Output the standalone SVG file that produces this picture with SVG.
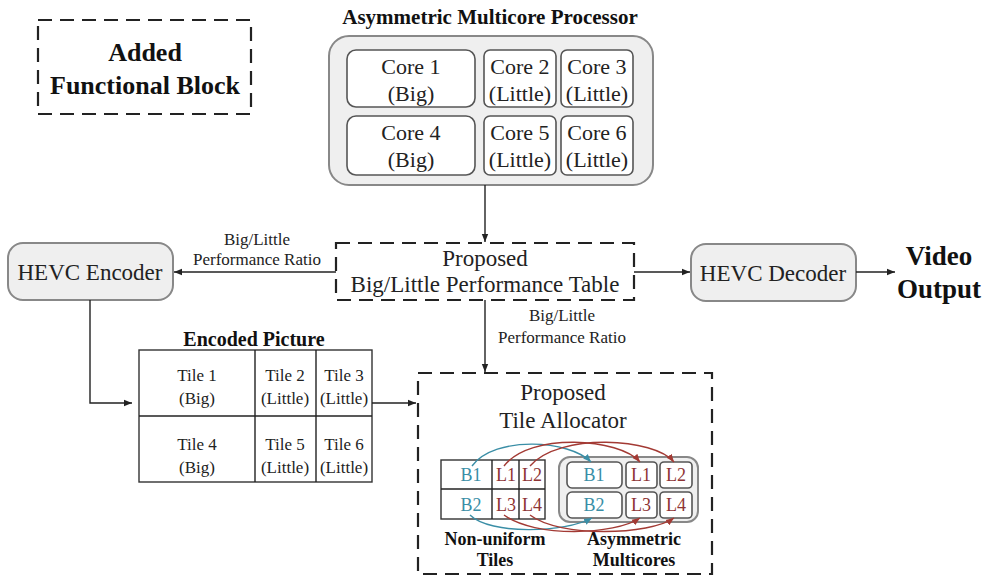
<svg xmlns="http://www.w3.org/2000/svg" width="984" height="576" viewBox="0 0 984 576">
<style>
text{font-family:"Liberation Serif","Times New Roman","DejaVu Serif",serif;fill:#222;text-anchor:middle}
.b{font-weight:bold;fill:#111}
.dash{fill:none;stroke:#222;stroke-width:2.2;stroke-dasharray:14,8}
.gbox{fill:#efefef;stroke:#888;stroke-width:2}
.core{fill:#fff;stroke:#555;stroke-width:1.6}
.ln{fill:none;stroke:#222;stroke-width:1.4}
.grid{fill:#fff;stroke:#333;stroke-width:1.4}
.teal{fill:#3a8ea6}
.red{fill:#8e3434}
.ct{fill:none;stroke:#3a8ea6;stroke-width:1.4}
.cr{fill:none;stroke:#a33a34;stroke-width:1.4}
</style>
<defs>
<marker id="ah" viewBox="0 0 10 10" refX="10" refY="5" markerWidth="8" markerHeight="8" markerUnits="userSpaceOnUse" orient="auto"><path d="M0,1 L10,5 L0,9 z" fill="#222"/></marker>
<marker id="aht" viewBox="0 0 10 10" refX="10" refY="5" markerWidth="8" markerHeight="8" markerUnits="userSpaceOnUse" orient="auto"><path d="M0,1 L10,5 L0,9 z" fill="#3a8ea6"/></marker>
<marker id="ahr" viewBox="0 0 10 10" refX="10" refY="5" markerWidth="8" markerHeight="8" markerUnits="userSpaceOnUse" orient="auto"><path d="M0,1 L10,5 L0,9 z" fill="#a33a34"/></marker>
</defs>

<g id="legend">
<rect class="dash" x="38" y="20" width="213" height="94"/>
<text class="b" x="145" y="61" font-size="26">Added</text>
<text class="b" x="145" y="94" font-size="26">Functional Block</text>
</g>

<g id="processor">
<text class="b" x="490" y="24" font-size="21">Asymmetric Multicore Processor</text>
<rect class="gbox" x="329" y="36" width="324" height="149" rx="20"/>
<rect class="core" x="347" y="50" width="128" height="57" rx="9"/>
<rect class="core" x="484" y="50" width="72" height="57" rx="6"/>
<rect class="core" x="561" y="50" width="72" height="57" rx="6"/>
<rect class="core" x="347" y="116" width="128" height="59" rx="9"/>
<rect class="core" x="484" y="116" width="72" height="59" rx="6"/>
<rect class="core" x="561" y="116" width="72" height="59" rx="6"/>
<g font-size="22">
<text x="411" y="74">Core 1</text><text x="411" y="101">(Big)</text>
<text x="520" y="74">Core 2</text><text x="520" y="101">(Little)</text>
<text x="597" y="74">Core 3</text><text x="597" y="101">(Little)</text>
<text x="411" y="140">Core 4</text><text x="411" y="167">(Big)</text>
<text x="520" y="140">Core 5</text><text x="520" y="167">(Little)</text>
<text x="597" y="140">Core 6</text><text x="597" y="167">(Little)</text>
</g>
</g>

<g id="table">
<rect class="dash" x="336" y="243" width="298" height="57"/>
<text x="485" y="266" font-size="23">Proposed</text>
<text x="485" y="292" font-size="23">Big/Little Performance Table</text>
</g>

<g id="encoder">
<rect class="gbox" x="8" y="243" width="165" height="57" rx="15"/>
<text x="90" y="280" font-size="23">HEVC Encoder</text>
</g>

<g id="decoder">
<rect class="gbox" x="691" y="244" width="165" height="57" rx="15"/>
<text x="773" y="281" font-size="23">HEVC Decoder</text>
</g>

<g id="output">
<text class="b" x="939" y="265" font-size="27">Video</text>
<text class="b" x="939" y="298" font-size="27">Output</text>
</g>

<g id="picture">
<text class="b" x="254" y="346" font-size="20">Encoded Picture</text>
<rect class="grid" x="139" y="350" width="233" height="132"/>
<line class="ln" x1="255" y1="350" x2="255" y2="482"/>
<line class="ln" x1="316" y1="350" x2="316" y2="482"/>
<line class="ln" x1="139" y1="416" x2="372" y2="416"/>
<g font-size="17">
<text x="197" y="381">Tile 1</text><text x="197" y="404">(Big)</text>
<text x="285" y="381">Tile 2</text><text x="285" y="404">(Little)</text>
<text x="344" y="381">Tile 3</text><text x="344" y="404">(Little)</text>
<text x="197" y="450">Tile 4</text><text x="197" y="473">(Big)</text>
<text x="285" y="450">Tile 5</text><text x="285" y="473">(Little)</text>
<text x="344" y="450">Tile 6</text><text x="344" y="473">(Little)</text>
</g>
</g>

<g id="allocator">
<rect class="dash" x="418" y="373" width="294" height="201"/>
<text x="563" y="400" font-size="23">Proposed</text>
<text x="563" y="428" font-size="23">Tile Allocator</text>
<rect class="grid" x="441" y="460" width="104" height="59"/>
<line class="ln" x1="492" y1="460" x2="492" y2="519"/>
<line class="ln" x1="519" y1="460" x2="519" y2="519"/>
<line class="ln" x1="441" y1="489" x2="545" y2="489"/>
<rect class="gbox" x="559" y="457" width="139" height="65" rx="11"/>
<rect class="core" x="567" y="462" width="55" height="26" rx="5"/>
<rect class="core" x="626" y="462" width="31" height="26" rx="4"/>
<rect class="core" x="660" y="462" width="32" height="26" rx="4"/>
<rect class="core" x="567" y="492" width="55" height="26" rx="5"/>
<rect class="core" x="626" y="492" width="31" height="26" rx="4"/>
<rect class="core" x="660" y="492" width="32" height="26" rx="4"/>
<g font-size="18">
<text class="teal" x="471" y="481">B1</text>
<text class="red" x="506" y="481">L1</text>
<text class="red" x="532" y="481">L2</text>
<text class="teal" x="471" y="511">B2</text>
<text class="red" x="506" y="511">L3</text>
<text class="red" x="532" y="511">L4</text>
<text class="teal" x="594" y="481">B1</text>
<text class="red" x="641" y="481">L1</text>
<text class="red" x="676" y="481">L2</text>
<text class="teal" x="594" y="511">B2</text>
<text class="red" x="641" y="511">L3</text>
<text class="red" x="676" y="511">L4</text>
</g>
<text class="b" x="495" y="545" font-size="18">Non-uniform</text>
<text class="b" x="495" y="566" font-size="18">Tiles</text>
<text class="b" x="634" y="545" font-size="18">Asymmetric</text>
<text class="b" x="634" y="566" font-size="18">Multicores</text>
</g>

<g id="connectors">
<line class="ln" x1="485" y1="185" x2="485" y2="242" marker-end="url(#ah)"/>
<line class="ln" x1="336" y1="272" x2="174" y2="272" marker-end="url(#ah)"/>
<text x="257" y="245" font-size="17">Big/Little</text>
<text x="257" y="265" font-size="17">Performance Ratio</text>
<line class="ln" x1="634" y1="272" x2="690" y2="272" marker-end="url(#ah)"/>
<line class="ln" x1="856" y1="272" x2="895" y2="272" marker-end="url(#ah)"/>
<polyline class="ln" points="90,300 90,403 132,403" marker-end="url(#ah)"/>
<line class="ln" x1="372" y1="403" x2="416" y2="403" marker-end="url(#ah)"/>
<line class="ln" x1="485" y1="300" x2="485" y2="372" marker-end="url(#ah)"/>
<text x="562" y="321" font-size="17">Big/Little</text>
<text x="562" y="343" font-size="17">Performance Ratio</text>
<path class="ct" d="M472,466 C495,435 570,440 591,462" marker-end="url(#aht)"/>
<path class="cr" d="M504,466 C530,432 620,438 640,462" marker-end="url(#ahr)"/>
<path class="cr" d="M530,466 C560,432 655,438 674,462" marker-end="url(#ahr)"/>
<path class="ct" d="M470,515 C490,535 565,533 592,518" marker-end="url(#aht)"/>
<path class="cr" d="M504,515 C535,538 615,535 640,518" marker-end="url(#ahr)"/>
<path class="cr" d="M530,515 C560,538 650,535 674,518" marker-end="url(#ahr)"/>
</g>
</svg>
